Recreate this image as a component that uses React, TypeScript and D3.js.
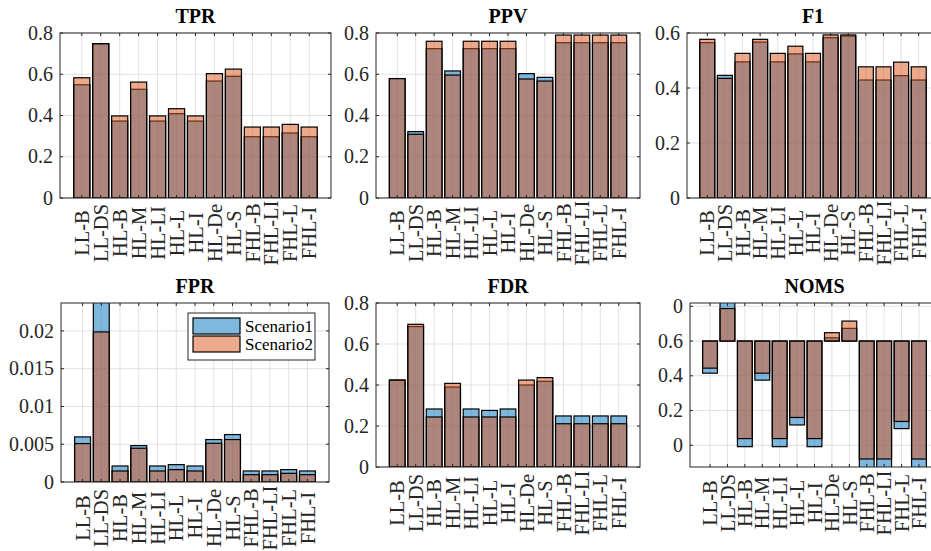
import React from 'react';
import * as d3 from 'd3';

// Method names shown on every x axis
const categories = ['LL-B', 'LL-DS', 'HL-B', 'HL-M', 'HL-LI', 'HL-L', 'HL-I', 'HL-De', 'HL-S', 'FHL-B', 'FHL-LI', 'FHL-L', 'FHL-I'];

const seriesNames = ['Scenario1', 'Scenario2'];

// True positive rate
const tprS1 = [0.549, 0.748, 0.373, 0.527, 0.373, 0.409, 0.373, 0.567, 0.590, 0.297, 0.297, 0.315, 0.297];
const tprS2 = [0.583, 0.748, 0.398, 0.562, 0.398, 0.433, 0.398, 0.603, 0.625, 0.344, 0.344, 0.357, 0.344];

// Positive predictive value
const ppvS1 = [0.579, 0.322, 0.724, 0.616, 0.724, 0.724, 0.724, 0.603, 0.585, 0.753, 0.753, 0.753, 0.753];
const ppvS2 = [0.579, 0.309, 0.760, 0.596, 0.760, 0.760, 0.760, 0.577, 0.567, 0.790, 0.790, 0.790, 0.790];

// F1 score
const f1S1 = [0.565, 0.446, 0.495, 0.567, 0.495, 0.524, 0.495, 0.583, 0.589, 0.429, 0.429, 0.445, 0.429];
const f1S2 = [0.577, 0.435, 0.526, 0.577, 0.526, 0.552, 0.526, 0.593, 0.593, 0.477, 0.477, 0.494, 0.477];

// False positive rate
const fprS1 = [0.00597, 0.0245, 0.00212, 0.00482, 0.00212, 0.0023, 0.00212, 0.00562, 0.00628, 0.00146, 0.00146, 0.00164, 0.00146];
const fprS2 = [0.00509, 0.01987, 0.00146, 0.00447, 0.00146, 0.00164, 0.00146, 0.00513, 0.00562, 0.00097, 0.00097, 0.00115, 0.00097];

// False discovery rate
const fdrS1 = [0.424, 0.685, 0.283, 0.390, 0.283, 0.276, 0.283, 0.400, 0.418, 0.249, 0.249, 0.249, 0.249];
const fdrS2 = [0.424, 0.696, 0.244, 0.408, 0.244, 0.244, 0.244, 0.424, 0.436, 0.211, 0.211, 0.211, 0.211];

// NOMS, drawn from a 0.6 baseline
const nomsS1 = [0.415, 0.83, -0.008, 0.375, -0.008, 0.117, -0.008, 0.619, 0.673, -0.14, -0.14, 0.096, -0.14];
const nomsS2 = [0.444, 0.787, 0.0385, 0.415, 0.0385, 0.160, 0.0385, 0.648, 0.715, -0.079, -0.079, 0.137, -0.079];

// Y tick values and their labels
const tickUnit = [0, 0.2, 0.4, 0.6, 0.8];
const tickUnitLabels = ['0', '0.2', '0.4', '0.6', '0.8'];
const tickF1 = [0, 0.2, 0.4, 0.6];
const tickF1Labels = ['0', '0.2', '0.4', '0.6'];
const tickFpr = [0, 0.005, 0.01, 0.015, 0.02];
const tickFprLabels = ['0', '0.005', '0.01', '0.015', '0.02'];
const tickNoms = [0, 0.2, 0.4, 0.6, 0.8];
const tickNomsLabels = ['0', '0.2', '0.4', '0.6', '0'];

type Panel = {
  key: string;
  title: string;
  s1: number[];
  s2: number[];
  domain: [number, number];
  ticks: number[];
  tickLabels: string[];
  base: number;
  left: number;
  right: number;
  top: number;
  bottom: number;
  labelOffset: number;
  legend?: boolean;
};

const panels: Panel[] = [
  { key: 'tpr', title: 'TPR', s1: tprS1, s2: tprS2, domain: [0, 0.8], ticks: tickUnit, tickLabels: tickUnitLabels, base: 0, left: 60, right: 331, top: 33, bottom: 198, labelOffset: 35 },
  { key: 'ppv', title: 'PPV', s1: ppvS1, s2: ppvS2, domain: [0, 0.8], ticks: tickUnit, tickLabels: tickUnitLabels, base: 0, left: 376, right: 640, top: 33, bottom: 198, labelOffset: 35 },
  { key: 'f1', title: 'F1', s1: f1S1, s2: f1S2, domain: [0, 0.6], ticks: tickF1, tickLabels: tickF1Labels, base: 0, left: 687, right: 939, top: 33, bottom: 198, labelOffset: 35 },
  { key: 'fpr', title: 'FPR', s1: fprS1, s2: fprS2, domain: [0, 0.0237], ticks: tickFpr, tickLabels: tickFprLabels, base: 0, left: 61, right: 329, top: 303, bottom: 482, labelOffset: 36, legend: true },
  { key: 'fdr', title: 'FDR', s1: fdrS1, s2: fdrS2, domain: [0, 0.8], ticks: tickUnit, tickLabels: tickUnitLabels, base: 0, left: 376, right: 640, top: 303, bottom: 467, labelOffset: 36 },
  { key: 'noms', title: 'NOMS', s1: nomsS1, s2: nomsS2, domain: [-0.125, 0.819], ticks: tickNoms, tickLabels: tickNomsLabels, base: 0.6, left: 690, right: 939, top: 303, bottom: 467, labelOffset: 36 },
];

const BLUE = 'rgba(0,114,189,0.5)';
const ORANGE = 'rgba(217,83,25,0.5)';
const AXIS = '#262626';
const GRID = '#e1e1e1';
const FONT = "'Liberation Serif', 'Times New Roman', serif";
const PAD = 1.15;
const BAR_W = 0.85;

function BarPanel({ p }: { p: Panel }) {
  const n = categories.length;
  const x = d3.scaleLinear().domain([1 - PAD, n + PAD]).range([p.left, p.right]);
  const y = d3.scaleLinear().domain(p.domain).range([p.bottom, p.top]);
  const step = x(2) - x(1);
  const bw = BAR_W * step;
  const clipId = `clip-${p.key}`;
  const tickLen = 3;

  const bars = (vals: number[], fill: string, tag: string) =>
    vals.map((v, i) => {
      const y0 = y(p.base);
      const y1 = y(v);
      return (
        <rect
          key={`${tag}-${i}`}
          x={x(i + 1) - bw / 2}
          y={Math.min(y0, y1)}
          width={bw}
          height={Math.abs(y1 - y0)}
          fill={fill}
          stroke="#000"
          strokeWidth={1.2}
        />
      );
    });

  return (
    <g>
      <defs>
        <clipPath id={clipId}>
          <rect x={p.left} y={p.top} width={p.right - p.left} height={p.bottom - p.top} />
        </clipPath>
      </defs>
      <rect x={p.left} y={p.top} width={p.right - p.left} height={p.bottom - p.top} fill="#fff" />
      {/* grid */}
      <g stroke={GRID} strokeWidth={1}>
        {categories.map((c, i) => (
          <line key={`gx-${c}`} x1={x(i + 1)} x2={x(i + 1)} y1={p.top} y2={p.bottom} />
        ))}
        {p.ticks.map((t) => (
          <line key={`gy-${t}`} x1={p.left} x2={p.right} y1={y(t)} y2={y(t)} />
        ))}
      </g>
      {/* bars */}
      <g clipPath={`url(#${clipId})`}>
        {bars(p.s1, BLUE, 's1')}
        {bars(p.s2, ORANGE, 's2')}
      </g>
      {/* box and ticks */}
      <rect x={p.left} y={p.top} width={p.right - p.left} height={p.bottom - p.top} fill="none" stroke={AXIS} strokeWidth={1} />
      <g stroke={AXIS} strokeWidth={1}>
        {categories.map((c, i) => (
          <g key={`tx-${c}`}>
            <line x1={x(i + 1)} x2={x(i + 1)} y1={p.bottom} y2={p.bottom - tickLen} />
            <line x1={x(i + 1)} x2={x(i + 1)} y1={p.top} y2={p.top + tickLen} />
          </g>
        ))}
        {p.ticks.map((t) => (
          <g key={`ty-${t}`}>
            <line x1={p.left} x2={p.left + tickLen} y1={y(t)} y2={y(t)} />
            <line x1={p.right} x2={p.right - tickLen} y1={y(t)} y2={y(t)} />
          </g>
        ))}
      </g>
      {/* y tick labels */}
      <g fontFamily={FONT} fontSize={20} fill={AXIS} textAnchor="end">
        {p.ticks.map((t, k) => (
          <text key={`yl-${t}`} x={p.left - 7} y={y(t)} dy="0.33em">
            {p.tickLabels[k]}
          </text>
        ))}
      </g>
      {/* x tick labels, rotated */}
      <g fontFamily={FONT} fontSize={20.5} fill={AXIS} textAnchor="middle">
        {categories.map((c, i) => (
          <text
            key={`xl-${c}`}
            transform={`translate(${x(i + 1)},${p.bottom + p.labelOffset}) rotate(-90)`}
            dy="0.35em"
          >
            {c}
          </text>
        ))}
      </g>
      <text
        x={(p.left + p.right) / 2}
        y={p.top - 10}
        textAnchor="middle"
        fontFamily={FONT}
        fontWeight="bold"
        fontSize={20}
        fill="#000"
      >
        {p.title}
      </text>
      {p.legend && <Legend left={p.right - 141} top={p.top + 10} />}
    </g>
  );
}

function Legend({ left, top }: { left: number; top: number }) {
  const fills = [BLUE, ORANGE];
  return (
    <g>
      <rect x={left} y={top} width={127} height={47} fill="#fff" stroke={AXIS} strokeWidth={1} />
      {seriesNames.map((name, k) => (
        <g key={name}>
          <rect x={left + 5} y={top + 5 + k * 18} width={47} height={16} fill={fills[k]} stroke="#000" strokeWidth={1.2} />
          <text x={left + 57} y={top + 13 + k * 18} dy="0.35em" fontFamily={FONT} fontSize={17} fill="#000">
            {name}
          </text>
        </g>
      ))}
    </g>
  );
}

export default function App() {
  return (
    <svg
      width={931}
      height={551}
      viewBox="0 0 931 551"
      style={{ position: 'absolute', left: 0, top: 0, background: '#fff' }}
    >
      <rect width={931} height={551} fill="#fff" />
      {panels.map((p) => (
        <BarPanel key={p.key} p={p} />
      ))}
    </svg>
  );
}
